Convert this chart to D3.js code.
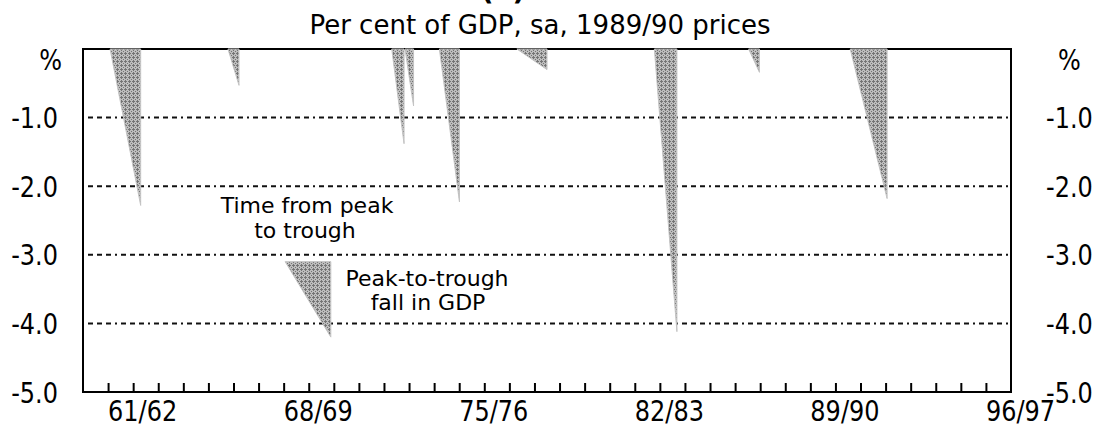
<!DOCTYPE html>
<html>
<head>
<meta charset="utf-8">
<script src="https://cdn.jsdelivr.net/npm/d3@7"></script>
<style>
  body { margin: 0; background: #fff; }
  text { font-family: "DejaVu Sans", sans-serif; fill: #000; }
</style>
</head>
<body>
<div class="board"></div>
<script>
// recessions: peak and trough (fiscal year, as a number) and the fall in GDP (%)
var peaks   = [1961.08, 1965.78, 1972.31, 1972.84, 1974.21, 1977.30, 1982.78, 1986.54, 1990.59];
var troughs = [1962.30, 1966.22, 1972.80, 1973.18, 1975.01, 1978.50, 1983.68, 1986.97, 1992.06];
var falls   = [-2.28, -0.53, -1.38, -0.83, -2.23, -0.30, -4.12, -0.34, -2.18];

// the key triangle
var keyPeak = 1968.06, keyTrough = 1969.88, keyTop = -3.1, keyBottom = -4.2;

var yTicks = [0, -1, -2, -3, -4, -5];
var yLabels = ['%', '-1.0', '-2.0', '-3.0', '-4.0', '-5.0'];
var tickYears = d3.range(1961, 1997);
var labelYears = [1961, 1968, 1975, 1982, 1989, 1996];
var yearLabels = ['61/62', '68/69', '75/76', '82/83', '89/90', '96/97'];

var width = 1102, height = 428;

var svg = d3.select('.board')
  .append('svg')
  .attr('width', width)
  .attr('height', height);

var x = d3.scaleLinear().domain([1960, 1997]).range([83, 1011]);
var y = d3.scaleLinear().domain([0, -5]).range([49, 392]);

// hatch fill for the triangles
var pat = svg.append('defs')
  .append('pattern')
  .attr('id', 'hatch')
  .attr('patternUnits', 'userSpaceOnUse')
  .attr('width', 4)
  .attr('height', 4);
pat.append('rect').attr('width', 4).attr('height', 4).attr('fill', '#bdbdbd');
[[1, 0], [0, 1], [1, 1], [2, 1], [1, 2], [3, 3]].forEach(function(p) {
  pat.append('rect').attr('x', p[0]).attr('y', p[1]).attr('width', 1).attr('height', 1).attr('fill', '#747474');
});

// axis numbers are a bit taller than the font, so stretch them
function stretched(sel, tx, ty) {
  return sel.attr('transform', function(d, i) {
    return 'translate(' + tx(d, i) + ',' + ty(d, i) + ') scale(1,1.2)';
  });
}

// title (the top line is cut off)
svg.append('text')
  .attr('x', 503)
  .attr('y', 0)
  .attr('text-anchor', 'middle')
  .style('font-size', '28px')
  .style('font-weight', 'bold')
  .text('(a)');

svg.append('text')
  .attr('x', 540)
  .attr('y', 34)
  .attr('text-anchor', 'middle')
  .style('font-size', '26px')
  .text('Per cent of GDP, sa, 1989/90 prices');

// grid lines
svg.selectAll('.grid')
  .data(yTicks.slice(1, 5))
  .enter()
  .append('line')
  .attr('x1', x(1960) + 5)
  .attr('x2', x(1997))
  .attr('y1', function(d) { return y(d); })
  .attr('y2', function(d) { return y(d); })
  .attr('stroke', '#111')
  .attr('stroke-width', 2)
  .attr('stroke-dasharray', '5,4,5,4,5,4,2,4');

// frame
svg.append('rect')
  .attr('x', x(1960))
  .attr('y', y(0))
  .attr('width', x(1997) - x(1960))
  .attr('height', y(-5) - y(0))
  .attr('fill', 'none')
  .attr('stroke', '#000')
  .attr('stroke-width', 2);

// year ticks pointing up into the plot
var xAxis = d3.axisBottom(x)
  .tickValues(tickYears)
  .tickSize(-9)
  .tickFormat('');
svg.append('g')
  .attr('transform', 'translate(0,' + y(-5) + ')')
  .call(xAxis)
  .call(function(g) {
    g.select('.domain').remove();
    g.selectAll('line').attr('stroke', '#000').attr('stroke-width', 2);
  });

stretched(svg.selectAll('.xlab')
  .data(labelYears)
  .enter()
  .append('text')
  .style('font-size', '24px')
  .text(function(d, i) { return yearLabels[i]; }),
  function(d) { return x(d); }, function() { return 421; });

// y labels on both sides
stretched(svg.selectAll('.ylabL')
  .data(yTicks)
  .enter()
  .append('text')
  .attr('text-anchor', 'end')
  .style('font-size', '24px')
  .text(function(d, i) { return yLabels[i]; }),
  function(d, i) { return i === 0 ? 62 : 58; },
  function(d, i) { return y(d) + (i === 0 ? 21 : 10.5); });

stretched(svg.selectAll('.ylabR')
  .data(yTicks)
  .enter()
  .append('text')
  .style('font-size', '24px')
  .text(function(d, i) { return yLabels[i]; }),
  function(d, i) { return i === 0 ? 1058 : 1046; },
  function(d, i) { return y(d) + (i === 0 ? 21 : 10.5); });

// recession triangles
var line = d3.line();
svg.selectAll('.drop')
  .data(peaks)
  .enter()
  .append('path')
  .attr('d', function(d, i) {
    return line([[x(d), y(0)], [x(troughs[i]), y(0)], [x(troughs[i]), y(falls[i])]]) + 'Z';
  })
  .attr('fill', 'url(#hatch)')
  .attr('stroke', '#c4c4c4')
  .attr('stroke-width', 1);

// key
svg.append('path')
  .attr('d', line([[x(keyPeak), y(keyTop)], [x(keyTrough), y(keyTop)], [x(keyTrough), y(keyBottom)]]) + 'Z')
  .attr('fill', 'url(#hatch)')
  .attr('stroke', '#c4c4c4')
  .attr('stroke-width', 1);

svg.append('text').attr('x', 307).attr('y', 213).attr('text-anchor', 'middle')
  .style('font-size', '22px').text('Time from peak');
svg.append('text').attr('x', 305).attr('y', 238).attr('text-anchor', 'middle')
  .style('font-size', '22px').text('to trough');
svg.append('text').attr('x', 427).attr('y', 286).attr('text-anchor', 'middle')
  .style('font-size', '22px').text('Peak-to-trough');
svg.append('text').attr('x', 428).attr('y', 310).attr('text-anchor', 'middle')
  .style('font-size', '22px').text('fall in GDP');
</script>
</body>
</html>
